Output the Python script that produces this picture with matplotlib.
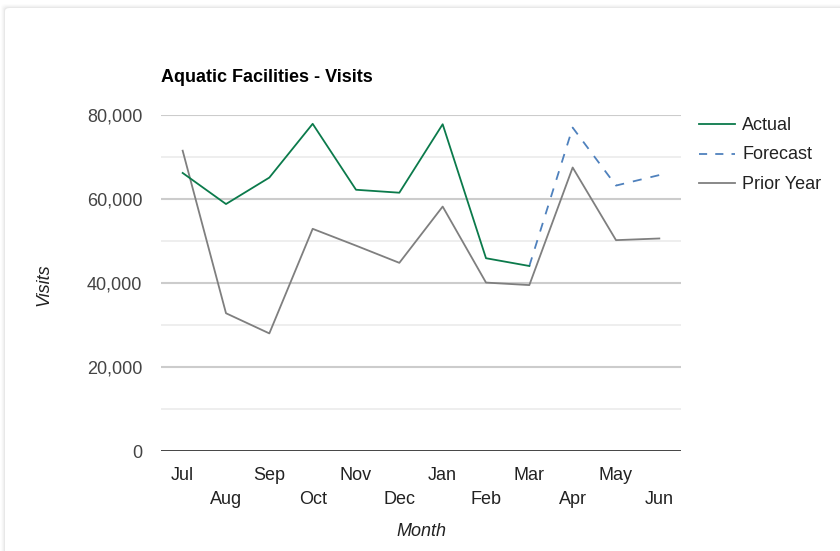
import matplotlib
matplotlib.use("Agg")
import matplotlib.pyplot as plt
from matplotlib.patches import FancyBboxPatch
from matplotlib.ticker import FixedLocator, FuncFormatter

months = ["Jul", "Aug", "Sep", "Oct", "Nov", "Dec", "Jan", "Feb", "Mar", "Apr", "May", "Jun"]
actual = [66200, 58800, 65100, 77900, 62200, 61500, 77800, 45900, 44050]
forecast = [None] * 8 + [44050, 77000, 63200, 65700]
prior_year = [71500, 32800, 28000, 52900, 48900, 44800, 58200, 40100, 39500, 67500, 50200, 50600]
y_ticks = [0, 20000, 40000, 60000, 80000]

plt.rcParams["font.family"] = ["Liberation Sans", "DejaVu Sans"]

W, H = 840, 551
fig = plt.figure(figsize=(W / 100, H / 100), dpi=100)
fig.patch.set_facecolor("#ffffff")

# card with a soft shadow
for i, a in enumerate([0.012, 0.018, 0.025, 0.035]):
    off = 4 - i
    fig.patches.append(FancyBboxPatch(((5 - off) / W, -0.1), (W + 20) / W, (H - 8 + off) / H + 0.1,
                                      boxstyle="round,pad=0,rounding_size=0.006",
                                      transform=fig.transFigure, facecolor="#000000",
                                      alpha=a, edgecolor="none", zorder=0))
fig.patches.append(FancyBboxPatch((5 / W, -0.1), (W + 20) / W, (H - 8) / H + 0.1,
                                  boxstyle="round,pad=0,rounding_size=0.006",
                                  transform=fig.transFigure, facecolor="#ffffff",
                                  edgecolor="none", zorder=1))

left, right, bottom, top = 161, 681, 451, 115
ax = fig.add_axes([left / W, 1 - bottom / H, (right - left) / W, (bottom - top) / H])
ax.set_facecolor("none")
ax.set_zorder(2)

x = list(range(len(months)))
ax.set_xlim(-0.5, len(months) - 0.5)
ax.set_ylim(0, 80000)

# gridlines
for v in range(10000, 80001, 10000):
    major = v % 20000 == 0
    ax.axhline(v, color="#cccccc" if major else "#ebebeb", lw=1.5 if major else 1.2, zorder=1)
ax.axhline(0, color="#333333", lw=2.0, zorder=5)

fx = [i for i, v in enumerate(forecast) if v is not None]
fy = [v for v in forecast if v is not None]
ax.plot(x, prior_year, color="#7f7f7f", lw=1.3, label="Prior Year", zorder=3)
ax.plot(fx, fy, color="#4f81bd", lw=1.3, dashes=(5, 5), label="Forecast", zorder=4)
ax.plot(x[:len(actual)], actual, color="#0b7a4b", lw=1.3, label="Actual", zorder=4)

for s in ax.spines.values():
    s.set_visible(False)
ax.tick_params(length=0)
ax.yaxis.set_major_locator(FixedLocator(y_ticks))
ax.yaxis.set_major_formatter(FuncFormatter(lambda v, p: f"{int(v):,}"))
ax.tick_params(axis="y", labelsize=13, labelcolor="#444444", pad=13.5)
ax.set_xticks([])

# staggered month labels
for i, m in enumerate(months):
    yy = 476 if i % 2 == 0 else 500
    fig.text((left + (i + 0.5) * (right - left) / 12) / W, 1 - yy / H, m,
             ha="center", va="center", fontsize=13, color="#222222")

fig.text(161 / W, 1 - 77 / H, "Aquatic Facilities - Visits", ha="left", va="center",
         fontsize=13, fontweight="bold", color="#000000")
fig.text(421 / W, 1 - 532 / H, "Month", ha="center", va="center", fontsize=13,
         style="italic", color="#222222")
fig.text(44 / W, 1 - 285 / H, "Visits", ha="center", va="center", fontsize=13,
         style="italic", rotation=90, color="#222222")

# legend
leg_items = [("Actual", "#0b7a4b", None), ("Forecast", "#4f81bd", (5, 5)), ("Prior Year", "#7f7f7f", None)]
for k, (name, col, dash) in enumerate(leg_items):
    yy = 1 - (124 + k * 29.5) / H
    kw = {"dashes": (4.5, 4.5)} if dash else {}
    fig.add_artist(plt.Line2D([699 / W, 735 / W], [yy, yy], color=col, lw=1.3,
                              transform=fig.transFigure, zorder=5, **kw))
    fig.text(742 / W, yy - 1.5 / H, name, ha="left", va="center", fontsize=13, color="#222222", zorder=5)

fig.savefig("out.png", dpi=100)
